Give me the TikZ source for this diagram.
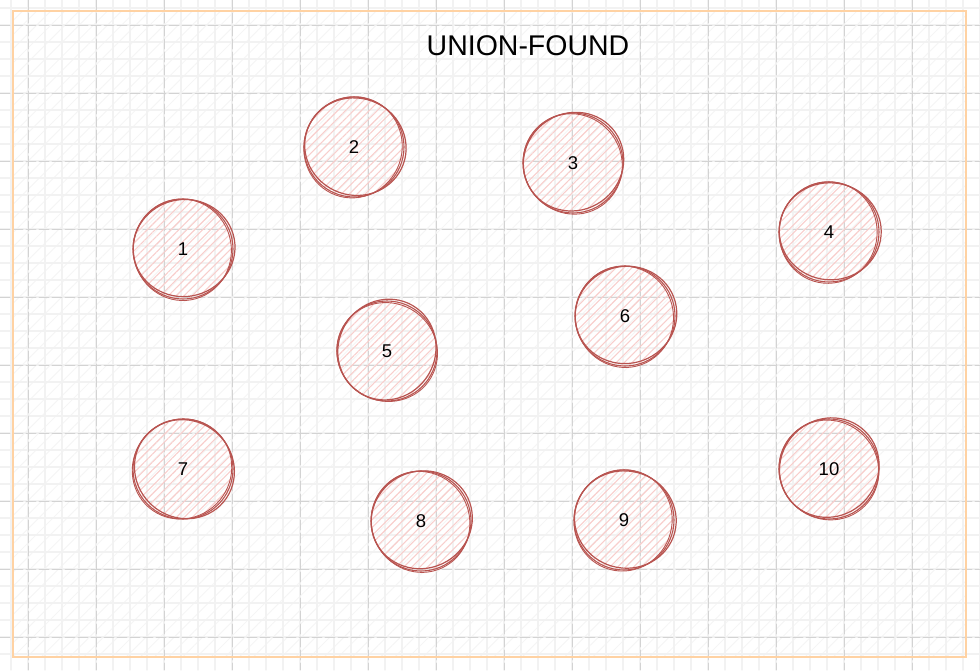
\documentclass[tikz,border=0pt]{standalone}
\usepackage{fontspec}
\setmainfont{Liberation Sans}
\usetikzlibrary{patterns.meta}
\definecolor{ufStroke}{HTML}{B85450}
\definecolor{ufHatch}{HTML}{F8CECC}
\definecolor{frameOrange}{HTML}{FFD2A3}
\definecolor{gridMinor}{HTML}{F2F2F2}
\definecolor{gridMajor}{HTML}{D3D3D3}
\definecolor{paperHatch}{HTML}{F5F5F5}
\newcommand{\UnionSet}[5]{
	\def\uname{#1}
	\def\ux{#2}
	\def\uy{#3}
	\def\ulabel{#4}
	\def\utilt{#5}
	\node[setnode] (\uname) at (\ux,\uy) {\ulabel};
	\begin{scope}[rotate around={\utilt:(\uname.center)}]
		\draw[setstroke] (\uname.center) ++(1.2,-0.8) ellipse (51 and 48.5);
		\draw[setstroke, line width=0.9pt] (\uname.center) ++(-0.8,0.6) ellipse (49 and 50.8);
	\end{scope}
}

\begin{document}
\begin{tikzpicture}[x=1pt, y=-1pt, line cap=round,
	setnode/.style={circle, minimum size=100pt, inner sep=0pt, draw=ufStroke, line width=1.1pt,
		pattern={Lines[angle=45, distance=5.6pt, line width=1.1pt]}, pattern color=ufHatch,
		font=\fontsize{18.5}{22}\selectfont},
	setstroke/.style={ufStroke, line width=1.2pt}]

	\useasboundingbox (0,0) rectangle (980,670);

	% paper
	\fill[pattern={Lines[angle=45, distance=10pt, line width=1pt]}, pattern color=paperHatch] (13,11) rectangle (966,657);
	\foreach \gx in {11,28,...,980} \draw[gridMinor, line width=1.1pt] (\gx,0) -- (\gx,670);
	\foreach \gy in {8,25,...,670} \draw[gridMinor, line width=1.1pt] (0,\gy) -- (980,\gy);
	\foreach \gx in {28,96,...,980} \draw[gridMajor, line width=0.8pt, dash pattern=on 10pt off 3pt] (\gx,0) -- (\gx,670);
	\foreach \gy in {25,93,...,670} \draw[gridMajor, line width=0.8pt, dash pattern=on 10pt off 3pt] (0,\gy) -- (980,\gy);
	\draw[frameOrange, line width=2pt] (13,11) rectangle (966,657);

	\node[font=\fontsize{28.5}{32}\selectfont] (title) at (528,46) {UNION-FOUND};

	\UnionSet{s1}{183}{249}{1}{10}
	\UnionSet{s2}{354}{147}{2}{-20}
	\UnionSet{s3}{573}{163}{3}{35}
	\UnionSet{s4}{829}{232}{4}{-5}
	\UnionSet{s5}{387}{351}{5}{60}
	\UnionSet{s6}{625}{316}{6}{15}
	\UnionSet{s7}{183}{469}{7}{-40}
	\UnionSet{s8}{421}{521}{8}{25}
	\UnionSet{s9}{624}{520}{9}{-15}
	\UnionSet{s10}{829}{469}{10}{45}

\end{tikzpicture}
\end{document}
